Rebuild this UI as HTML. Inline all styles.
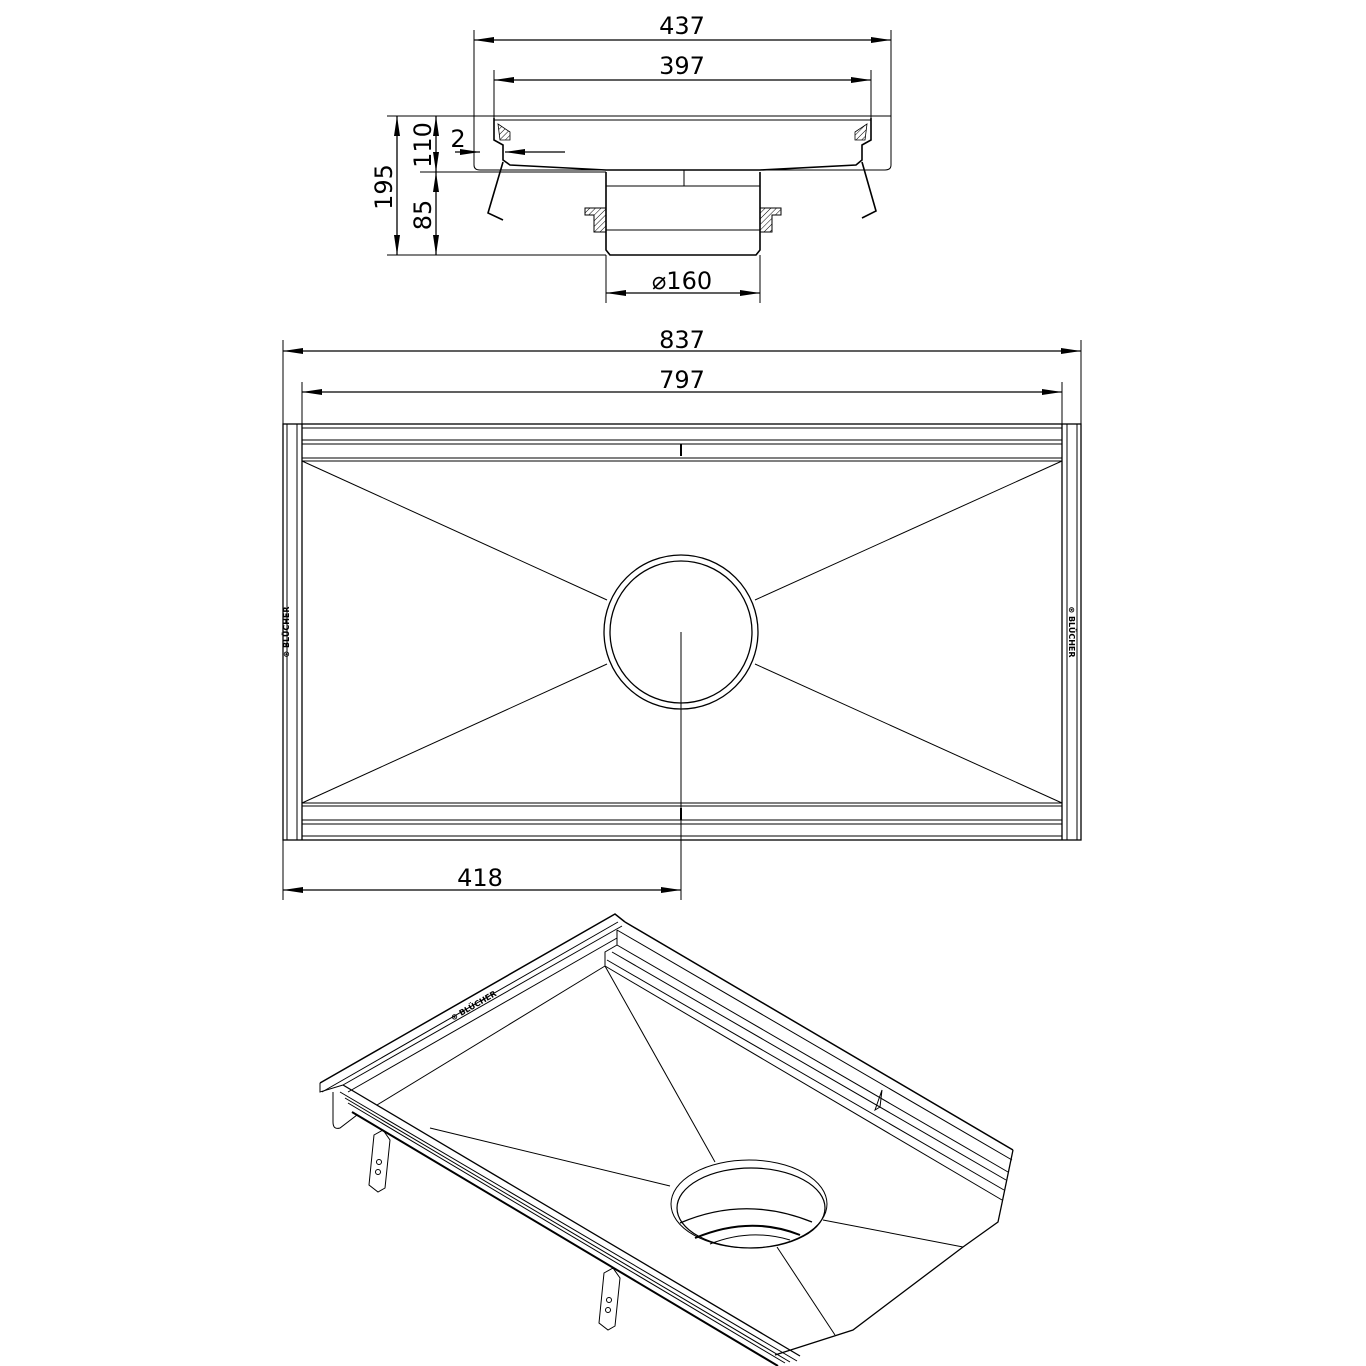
<!DOCTYPE html>
<html><head><meta charset="utf-8"><style>
html,body{margin:0;padding:0;background:#fff}
svg{display:block}
text{font-family:"DejaVu Sans","Liberation Sans",sans-serif;fill:#000}
</style></head><body>
<svg width="1366" height="1366" viewBox="0 0 1366 1366" xmlns="http://www.w3.org/2000/svg">
<defs>
<marker id="a" viewBox="0 0 20 6" refX="20" refY="3" markerWidth="20" markerHeight="6" orient="auto-start-reverse" markerUnits="userSpaceOnUse"><path d="M0,0 L20,3 L0,6 z" fill="#000"/></marker>
<pattern id="h" width="4" height="4" patternUnits="userSpaceOnUse" patternTransform="rotate(45)"><line x1="0" y1="0" x2="0" y2="4" stroke="#000" stroke-width="1"/></pattern>
</defs>
<g stroke="#000" fill="none" stroke-width="1.3">
<!-- top dims -->
<line x1="474" y1="30" x2="474" y2="118" stroke-width="1"/>
<line x1="891" y1="30" x2="891" y2="118" stroke-width="1"/>
<line x1="494" y1="70" x2="494" y2="118" stroke-width="1"/>
<line x1="871" y1="70" x2="871" y2="118" stroke-width="1"/>
<line x1="474" y1="40" x2="891" y2="40" marker-start="url(#a)" marker-end="url(#a)"/>
<line x1="494" y1="80" x2="871" y2="80" marker-start="url(#a)" marker-end="url(#a)"/>
<!-- section -->
<line x1="387" y1="116" x2="891" y2="116" stroke-width="1"/>
<line x1="494" y1="120" x2="871" y2="120" stroke-width="1"/>
<path d="M474,116 L474,165 Q474,170 480,170 L885,170 Q891,170 891,165 L891,116" stroke-width="1"/>
<path d="M494,118 L494,140 L503,145 L503,160 L510,165 L606,170 L760,170 L856,165 L862,160 L862,145 L871,140 L871,118" stroke-width="1.6"/>
<path d="M498,124 L510,132 L510,140 L500,140 Z" fill="url(#h)" stroke-width="0.8"/>
<path d="M867,124 L855,132 L855,140 L865,140 Z" fill="url(#h)" stroke-width="0.8"/>
<path d="M503,162 L488,213 L503,220" stroke-width="1.6"/>
<path d="M862,162 L876,211 L862,218" stroke-width="1.6"/>
<line x1="420" y1="172" x2="606" y2="172" stroke-width="1"/>
<path d="M606,172 L606,250 L610,255 L756,255 L760,250 L760,172" stroke-width="1.6"/>
<line x1="606" y1="186" x2="760" y2="186" stroke-width="1"/>
<line x1="606" y1="230" x2="760" y2="230" stroke-width="1"/>
<line x1="684" y1="170" x2="684" y2="186" stroke-width="1"/>
<path d="M585,208 L606,208 L606,232 L594,232 L594,215 L585,215 Z" fill="url(#h)" stroke-width="1"/>
<path d="M781,208 L760,208 L760,232 L772,232 L772,215 L781,215 Z" fill="url(#h)" stroke-width="1"/>
<line x1="387" y1="255" x2="606" y2="255" stroke-width="1"/>
<line x1="397" y1="116" x2="397" y2="255" marker-start="url(#a)" marker-end="url(#a)"/>
<line x1="436" y1="116" x2="436" y2="172" marker-start="url(#a)" marker-end="url(#a)"/>
<line x1="436" y1="172" x2="436" y2="255" marker-start="url(#a)" marker-end="url(#a)"/>
<line x1="455" y1="152" x2="480" y2="152" marker-end="url(#a)"/>
<line x1="565" y1="152" x2="505" y2="152" marker-end="url(#a)"/>
<line x1="606" y1="255" x2="606" y2="303" stroke-width="1"/>
<line x1="760" y1="255" x2="760" y2="303" stroke-width="1"/>
<line x1="606" y1="293" x2="760" y2="293" marker-start="url(#a)" marker-end="url(#a)"/>
<!-- plan dims -->
<line x1="283" y1="340" x2="283" y2="426" stroke-width="1"/>
<line x1="1081" y1="340" x2="1081" y2="426" stroke-width="1"/>
<line x1="302" y1="382" x2="302" y2="426" stroke-width="1"/>
<line x1="1062" y1="382" x2="1062" y2="426" stroke-width="1"/>
<line x1="283" y1="351" x2="1081" y2="351" marker-start="url(#a)" marker-end="url(#a)"/>
<line x1="302" y1="392" x2="1062" y2="392" marker-start="url(#a)" marker-end="url(#a)"/>
<!-- plan -->
<rect x="283" y="424" width="798" height="416" stroke-width="1.3"/>
<line x1="287" y1="424" x2="287" y2="840" stroke-width="1"/>
<line x1="297" y1="424" x2="297" y2="840" stroke-width="1"/>
<line x1="302" y1="424" x2="302" y2="840" stroke-width="1.3"/>
<line x1="1062" y1="424" x2="1062" y2="840" stroke-width="1.3"/>
<line x1="1067" y1="424" x2="1067" y2="840" stroke-width="1"/>
<line x1="1077" y1="424" x2="1077" y2="840" stroke-width="1"/>
<g stroke-width="1">
<line x1="302" y1="428" x2="1062" y2="428"/>
<line x1="302" y1="440" x2="1062" y2="440"/>
<line x1="302" y1="444" x2="1062" y2="444"/>
<line x1="302" y1="458" x2="1062" y2="458"/>
<line x1="302" y1="461" x2="1062" y2="461"/>
<line x1="302" y1="803" x2="1062" y2="803"/>
<line x1="302" y1="806" x2="1062" y2="806"/>
<line x1="302" y1="820" x2="1062" y2="820"/>
<line x1="302" y1="824" x2="1062" y2="824"/>
<line x1="302" y1="836" x2="1062" y2="836"/>
<line x1="302" y1="461" x2="607" y2="600"/>
<line x1="1062" y1="461" x2="755" y2="600"/>
<line x1="302" y1="803" x2="607" y2="664"/>
<line x1="1062" y1="803" x2="755" y2="664"/>
<line x1="681" y1="632" x2="681" y2="900"/>
<line x1="681" y1="444" x2="681" y2="456" stroke-width="2"/>
<line x1="681" y1="808" x2="681" y2="820" stroke-width="2"/>
</g>
<circle cx="681" cy="632" r="77"/>
<circle cx="681" cy="632" r="71"/>
<line x1="283" y1="840" x2="283" y2="900" stroke-width="1"/>
<line x1="283" y1="890" x2="681" y2="890" marker-start="url(#a)" marker-end="url(#a)"/>
<!-- iso -->
<g stroke-width="1.2">
<!-- back-left rail -->
<path d="M320,1083 L615,914 L625,922" stroke-width="1.5"/>
<line x1="322" y1="1092" x2="618" y2="922" stroke-width="1"/>
<line x1="343" y1="1085" x2="622" y2="926" stroke-width="1"/>
<line x1="348" y1="1092" x2="617" y2="938" stroke-width="1"/>
<path d="M320,1083 L320,1092 L343,1085" stroke-width="1"/>
<!-- right rail -->
<line x1="625" y1="922" x2="1013" y2="1150" stroke-width="1.5"/>
<line x1="617" y1="930" x2="1012" y2="1160" stroke-width="1"/>
<line x1="617" y1="930" x2="617" y2="945" stroke-width="1"/>
<path d="M617,945 L605,952 L605,966" stroke-width="1"/>
<line x1="617" y1="945" x2="1008" y2="1172" stroke-width="1"/>
<line x1="612" y1="952" x2="1006" y2="1180" stroke-width="1"/>
<line x1="607" y1="960" x2="1004" y2="1190" stroke-width="1"/>
<line x1="605" y1="966" x2="1002" y2="1200" stroke-width="1"/>
<path d="M1013,1150 L1002,1203 L998,1222 L963,1247 L853,1330 L800,1347 L775,1355" stroke-width="1.3"/>
<!-- front rail -->
<line x1="343" y1="1085" x2="800" y2="1356" stroke-width="1.3"/>
<line x1="340" y1="1092" x2="797" y2="1361" stroke-width="1"/>
<line x1="345" y1="1098" x2="790" y2="1362" stroke-width="1"/>
<line x1="348" y1="1103" x2="785" y2="1363" stroke-width="1"/>
<line x1="352" y1="1112" x2="778" y2="1366" stroke-width="2"/>
<path d="M333,1092 L333,1122 Q333,1130 340,1128 L357,1115" stroke-width="1"/>
<!-- funnel -->
<line x1="377" y1="1105" x2="605" y2="966" stroke-width="1"/>
<line x1="605" y1="966" x2="715" y2="1162" stroke-width="1"/>
<line x1="430" y1="1128" x2="670" y2="1186" stroke-width="1"/>
<line x1="823" y1="1220" x2="963" y2="1247" stroke-width="1"/>
<line x1="777" y1="1247" x2="835" y2="1335" stroke-width="1"/>
<ellipse cx="749" cy="1204" rx="78" ry="44" stroke-width="1"/>
<ellipse cx="751" cy="1208" rx="74" ry="40"/>
<path d="M680,1223 Q745,1195 812,1222" stroke-width="1.3"/>
<path d="M695,1238 Q750,1215 800,1235" stroke-width="2"/>
<path d="M710,1244 Q750,1228 790,1240" stroke-width="1"/>
<path d="M875,1110 L882,1090 L880,1107 Z" stroke-width="1"/>
<!-- legs -->
<path d="M383,1130 L374,1135 L369,1185 L378,1192 L385,1188 L390,1140 Z" stroke-width="1"/>
<circle cx="379" cy="1162" r="2.5" stroke-width="1"/><circle cx="378" cy="1172" r="2.5" stroke-width="1"/>
<path d="M613,1268 L604,1273 L599,1323 L608,1330 L615,1326 L620,1278 Z" stroke-width="1"/>
<circle cx="609" cy="1300" r="2.5" stroke-width="1"/><circle cx="608" cy="1310" r="2.5" stroke-width="1"/>
</g>
</g>
<g font-size="24">
<text x="682" y="34" text-anchor="middle">437</text>
<text x="682" y="74" text-anchor="middle">397</text>
<text x="682" y="348" text-anchor="middle">837</text>
<text x="682" y="388" text-anchor="middle">797</text>
<text x="480" y="886" text-anchor="middle">418</text>
<text x="682" y="289" text-anchor="middle">⌀160</text>
<text x="458" y="147" text-anchor="middle">2</text>
<text transform="translate(392,187) rotate(-90)" text-anchor="middle">195</text>
<text transform="translate(431,145) rotate(-90)" text-anchor="middle">110</text>
<text transform="translate(431,215) rotate(-90)" text-anchor="middle">85</text>
</g>
<g font-size="8" font-weight="bold">
<text transform="translate(289,632) rotate(-90)" text-anchor="middle">⊛ BLÜCHER</text>
<text transform="translate(1069,632) rotate(90)" text-anchor="middle">⊛ BLÜCHER</text>
<text transform="translate(475,1008) rotate(-30)" text-anchor="middle">⊛ BLÜCHER</text>
</g>
</svg>
</body></html>
